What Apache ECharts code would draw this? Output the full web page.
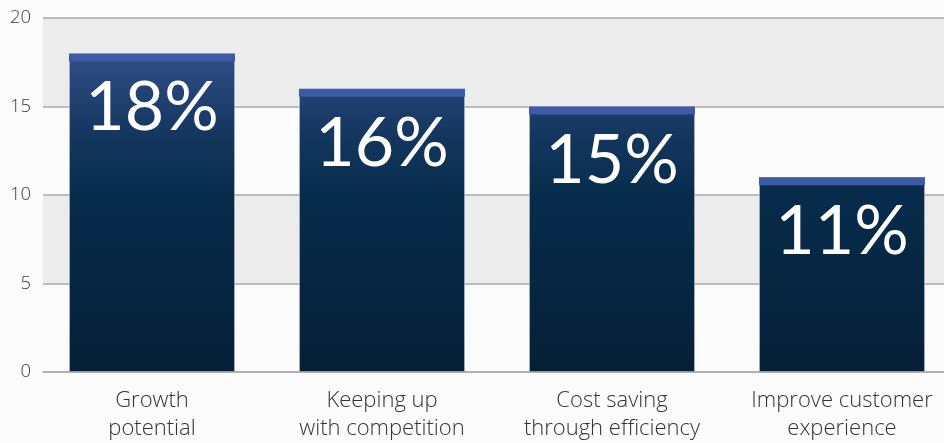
<!DOCTYPE html>
<html><head><meta charset="utf-8">
<script src="https://cdn.jsdelivr.net/npm/echarts@6/dist/echarts.min.js"></script>
<style>html,body{margin:0;padding:0;background:#fbfbfb;overflow:hidden;width:944px;height:443px}#c{width:957px;height:443px}</style>
</head><body><div id="c"></div>
<script>
const categories = ['Growth\npotential', 'Keeping up\nwith competition', 'Cost saving\nthrough efficiency', 'Improve customer\nexperience'];
const values = [18, 16, 15, 11];
const valueLabels = ['18%', '16%', '15%', '11%'];
const yTicks = [0, 5, 10, 15, 20];

const chart = echarts.init(document.getElementById('c'));
const BAR_W = 166;
const grad = new echarts.graphic.LinearGradient(0, 18, 0, 372, [
  {offset: 0, color: '#3a5694'},
  {offset: 0.12, color: '#2e4c84'},
  {offset: 0.32, color: '#153760'},
  {offset: 0.5, color: '#072c4b'},
  {offset: 1, color: '#061f37'}
], true);

chart.setOption({
  backgroundColor: '#fbfbfb',
  animation: false,
  grid: [
    {left: 43, right: 13, top: 18, bottom: 71},
    {left: 37, right: 0, top: 18, bottom: 71}
  ],
  xAxis: [
    {type: 'category', gridIndex: 0, data: categories, axisLine: {show: true, lineStyle: {color: '#ababab', width: 1.5}},
     axisTick: {show: false}, axisLabel: {show: false}},
    {type: 'category', gridIndex: 1, data: categories, axisLine: {show: false}, axisTick: {show: false},
     axisLabel: {interval: 0, hideOverlap: false, color: '#333', fontFamily: 'Open Sans', fontWeight: 300, fontSize: 22, lineHeight: 28, margin: 15}}
  ],
  yAxis: [
    {type: 'value', gridIndex: 0, min: yTicks[0], max: yTicks[yTicks.length - 1], interval: 5,
     axisLine: {show: false}, axisTick: {show: false},
     axisLabel: {color: '#3c3c3c', fontFamily: 'Open Sans', fontWeight: 300, fontSize: 18.5, margin: 12},
     splitLine: {show: true, lineStyle: {color: '#a9a9a9', width: 1.5}},
     splitArea: {show: true, areaStyle: {color: ['rgba(255,255,255,0)', '#ececec']}}},
    {type: 'value', gridIndex: 1, min: 0, max: 20, interval: 5, show: false, splitLine: {show: false}}
  ],
  series: [
    {type: 'bar', xAxisIndex: 1, yAxisIndex: 1, data: values, barWidth: BAR_W,
     itemStyle: {color: grad, borderColor: 'rgba(180,190,205,0.6)', borderWidth: 1},
     label: {show: true, position: 'insideTop', distance: 21, color: '#fff', fontFamily: 'Lato', fontSize: 68,
       formatter: p => valueLabels[p.dataIndex]}, z: 2},
    {type: 'custom', xAxisIndex: 1, yAxisIndex: 1, data: values.map((v, i) => [i, v]), z: 3,
     renderItem: (params, api) => {
       const c = api.coord([api.value(0), api.value(1)]);
       return {type: 'rect', shape: {x: c[0] - BAR_W / 2, y: c[1], width: BAR_W, height: 8}, style: {fill: '#3e5ba8'}};
     }}
  ]
});
</script></body></html>
